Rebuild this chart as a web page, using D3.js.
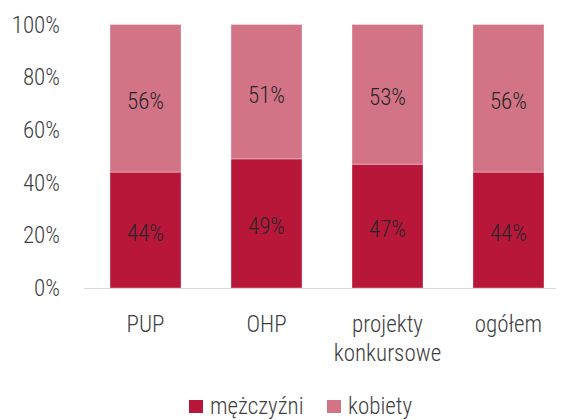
<!DOCTYPE html>
<meta charset="utf-8">
<script src="https://d3js.org/d3.v7.min.js"></script>
<style>
    body { margin: 0; background: #fff; }
    svg text {
        font-family: "Roboto Condensed", "Liberation Sans Narrow", "DejaVu Sans Condensed", Roboto, sans-serif;
        font-weight: 300;
    }
    .tick_label { font-size: 23px; fill: #404040; }
    .cat_label { font-size: 23px; fill: #404040; }
    .val_label { font-size: 23px; fill: #262626; }
    .legend_text { font-size: 23px; fill: #404040; }
</style>
<div id="chart"></div>
<script>
// data
const categories = ["PUP", "OHP", "projekty konkursowe", "ogółem"];
const catLines = [["PUP"], ["OHP"], ["projekty", "konkursowe"], ["ogółem"]];
const men = [44, 49, 47, 44];
const women = [56, 51, 53, 56];
const seriesNames = ["mężczyźni", "kobiety"];
const colors = ["#B9173A", "#D37386"];
const yTicks = [0, 20, 40, 60, 80, 100];

const W = 568, H = 420;

const svg = d3.select("#chart").append("svg")
    .attr("width", W)
    .attr("height", H);

const x = d3.scaleBand().domain(categories).range([84, 570])
    .paddingInner(0.413).paddingOuter(0.215);
const y = d3.scaleLinear().domain([0, 100]).range([288, 24.5]);

// y tick labels
svg.append("g").selectAll("text")
    .data(yTicks)
    .join("text")
    .attr("class", "tick_label")
    .attr("x", 60)
    .attr("y", d => y(d))
    .attr("dy", "0.35em")
    .attr("text-anchor", "end")
    .text(d => d + "%");

// stacked bars
const rows = categories.map((c, i) => ({ cat: c, m: men[i], k: women[i] }));
const stack = d3.stack().keys(["m", "k"])(rows);

const layers = svg.append("g").selectAll("g")
    .data(stack)
    .join("g")
    .attr("fill", (d, i) => colors[i]);

layers.selectAll("rect")
    .data(d => d)
    .join("rect")
    .attr("x", d => x(d.data.cat))
    .attr("width", x.bandwidth())
    .attr("y", d => y(d[1]))
    .attr("height", d => y(d[0]) - y(d[1]))
    .attr("stroke", "#fff")
    .attr("stroke-opacity", 0.45)
    .attr("stroke-width", 0.75);

layers.selectAll("text")
    .data(d => d)
    .join("text")
    .attr("class", "val_label")
    .attr("x", d => x(d.data.cat) + x.bandwidth() / 2)
    .attr("y", d => (y(d[0]) + y(d[1])) / 2 + 3)
    .attr("dy", "0.35em")
    .attr("text-anchor", "middle")
    .text(d => (d[1] - d[0]) + "%");

// baseline
svg.append("line")
    .attr("x1", 84).attr("x2", 556)
    .attr("y1", y(0) + 0.5).attr("y2", y(0) + 0.5)
    .attr("stroke", "#d9d9d9")
    .attr("stroke-width", 1);

// category labels
const cat = svg.append("g").selectAll("text")
    .data(categories)
    .join("text")
    .attr("class", "cat_label")
    .attr("text-anchor", "middle")
    .attr("x", d => x(d) + x.bandwidth() / 2)
    .attr("y", 332);
cat.selectAll("tspan")
    .data((d, i) => catLines[i])
    .join("tspan")
    .attr("x", function() { return this.parentNode.getAttribute("x"); })
    .attr("dy", (d, i) => i === 0 ? 0 : 29)
    .text(d => d);

// legend
const legendX = [189, 327];
const legend = svg.append("g").selectAll("g")
    .data(seriesNames)
    .join("g")
    .attr("transform", (d, i) => "translate(" + legendX[i] + ",400)");
legend.append("rect")
    .attr("width", 14).attr("height", 13)
    .attr("fill", (d, i) => colors[i]);
legend.append("text")
    .attr("class", "legend_text")
    .attr("x", 21)
    .attr("y", 14)
    .text(d => d);
</script>
